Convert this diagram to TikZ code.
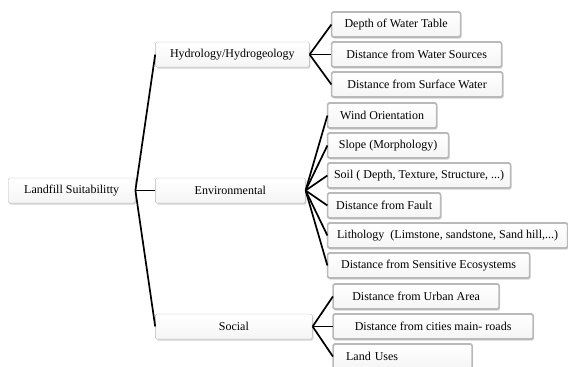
\documentclass[tikz,border=0pt]{standalone}
\usepackage{fontspec}
\setmainfont{Liberation Serif}
\usetikzlibrary{shadows}

\tikzset{
  box/.style={rectangle, draw=gray!55, rounded corners=1.5pt, top color=white, bottom color=gray!8,
    minimum height=25pt, inner sep=2pt, anchor=west, font=\fontsize{12}{14}\selectfont,
    drop shadow={shadow xshift=1pt, shadow yshift=-1.5pt, opacity=0.35}}
}

\begin{document}
\begin{tikzpicture}[x=1pt, y=-1pt, grow'=right, level distance=83.5pt,
      level 1/.style={sibling distance=136pt},
      level 2/.style={sibling distance=30pt, level distance=99pt},
      edge from parent/.style={draw, line width=1.7pt, line join=round},
      edge from parent path={(\tikzparentnode.east) -- (\tikzchildnode.west)}
      ]
      \useasboundingbox (0,0) rectangle (568,367);
      \node[box, minimum width=127pt] (suit) at (8,190.5) {Landfill Suitabilitty}
        child {node[box, minimum width=154pt] (hydro) {Hydrology/Hydrogeology}
          child {node[box, minimum width=129pt] (depth) {Depth of Water Table}}
          child {node[box, minimum width=170pt] (sources) {Distance from Water Sources}}
          child {node[box, minimum width=171pt] (surface) {Distance from Surface Water}}}
        child {node[box, minimum width=150pt] (env) {Environmental}
          child {node[box, xshift=-2pt, minimum width=109pt] (wind) {Wind Orientation}}
          child {node[box, xshift=-2pt, minimum width=121pt] (slope) {Slope (Morphology)}}
          child {node[box, xshift=-2pt, minimum width=183pt] (soil) {Soil ( Depth, Texture, Structure, ...)}}
          child {node[box, xshift=-2pt, minimum width=113pt] (fault) {Distance from Fault}}
          child {node[box, xshift=-2pt, minimum width=240pt] (litho) {Lithology\ \ (Limstone, sandstone, Sand hill,...)}}
          child {node[box, xshift=-2pt, minimum width=202pt] (eco) {Distance from Sensitive Ecosystems}}}
        child {node[box, minimum width=157pt] (social) {Social}
          child {node[box, minimum width=166pt] (urban) {Distance from Urban Area}}
          child {node[box, minimum width=200pt] (roads) {Distance from cities main- roads}}
          child {node[box, inner xsep=13pt, text width=113pt, align=left] (landuse) {Land Uses}}};
    \end{tikzpicture}
\end{document}
